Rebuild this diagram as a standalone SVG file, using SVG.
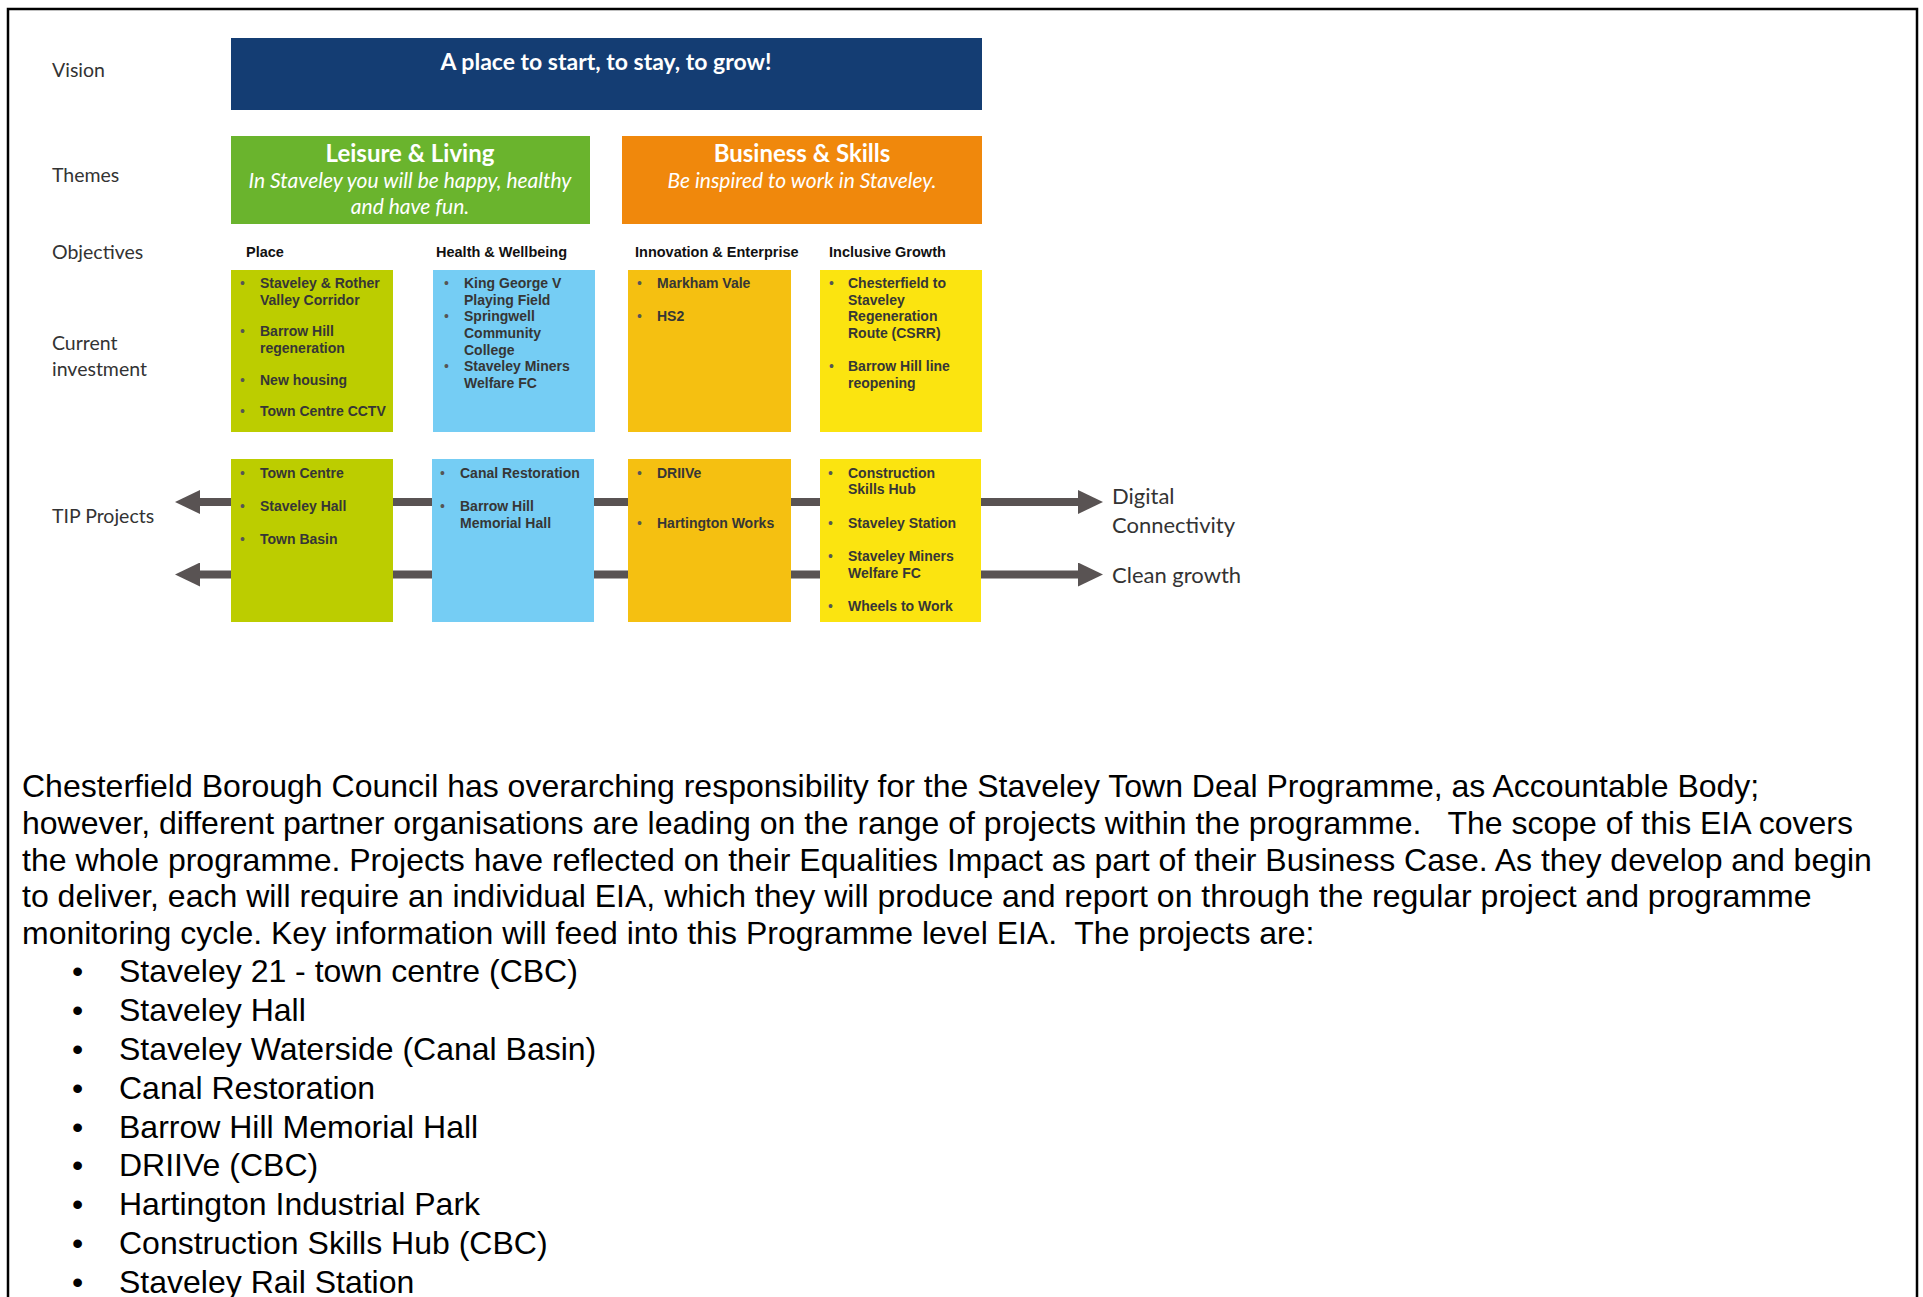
<svg xmlns="http://www.w3.org/2000/svg" width="1923" height="1297" viewBox="0 0 1923 1297">
<defs>
<marker id="ah" viewBox="0 0 25 24" markerWidth="25" markerHeight="24" markerUnits="userSpaceOnUse" refX="0" refY="12" orient="auto-start-reverse">
<path d="M0,0 L25,12 L0,24 z" fill="#595353"/>
</marker>
</defs>
<style>
.lbl{font-family:Lato,"Open Sans",sans-serif;font-size:19.5px;fill:#333}
.head{font-family:Lato,"Open Sans",sans-serif;font-weight:700;fill:#fff;text-anchor:middle}
.sub{font-family:Lato,"Open Sans",sans-serif;font-style:italic;font-size:21px;fill:#fff;text-anchor:middle}
.obj{font-family:"Liberation Sans",Arial,sans-serif;font-weight:700;font-size:14.5px;fill:#111}
.it{font-family:"Liberation Sans",Arial,sans-serif;font-weight:700;font-size:14px;fill:#363636}
.bl{font-family:"Liberation Sans",Arial,sans-serif;font-size:14px;fill:#555}
.body{font-family:"Liberation Sans",Arial,sans-serif;font-size:32px;fill:#000;white-space:pre}
.conn{stroke:#595353;stroke-width:8;fill:none}
.side{font-family:Lato,"Open Sans",sans-serif;font-size:22px;fill:#333}
</style>
<rect x="0" y="0" width="1923" height="1297" fill="#fff"/>
<rect x="8" y="9" width="1909" height="1310" fill="none" stroke="#000" stroke-width="2.5"/>

<g id="row-labels">
<text class="lbl" x="52" y="77">Vision</text>
<text class="lbl" x="52" y="182">Themes</text>
<text class="lbl" x="52" y="259">Objectives</text>
<text class="lbl" x="52" y="350">Current</text>
<text class="lbl" x="52" y="376">investment</text>
<text class="lbl" x="52" y="523">TIP Projects</text>
</g>

<g id="connectors">
<line class="conn" x1="200" y1="502" x2="1078" y2="502" marker-start="url(#ah)" marker-end="url(#ah)"/>
<line class="conn" x1="200" y1="574.5" x2="1078" y2="574.5" marker-start="url(#ah)" marker-end="url(#ah)"/>
</g>

<g id="vision">
<rect x="231" y="38" width="751" height="72" fill="#143d73"/>
<text class="head" x="606" y="70" font-size="23">A place to start, to stay, to grow!</text>
</g>

<g id="theme-leisure">
<rect x="231" y="136" width="359" height="88" fill="#6ab42d"/>
<text class="head" x="410" y="162" font-size="24">Leisure &amp; Living</text>
<text class="sub" x="410" y="188">In Staveley you will be happy, healthy</text>
<text class="sub" x="410" y="214">and have fun.</text>
</g>

<g id="theme-business">
<rect x="622" y="136" width="360" height="88" fill="#f0880c"/>
<text class="head" x="802" y="162" font-size="24">Business &amp; Skills</text>
<text class="sub" x="802" y="188">Be inspired to work in Staveley.</text>
</g>

<g id="obj-place">
<text class="obj" x="246" y="257">Place</text>
<rect x="231" y="270" width="162" height="162" fill="#bccd00"/>
<text class="bl" x="240" y="288">•</text><text class="it" x="260" y="288">Staveley &amp; Rother</text>
<text class="it" x="260" y="304.5">Valley Corridor</text>
<text class="bl" x="240" y="336">•</text><text class="it" x="260" y="336">Barrow Hill</text>
<text class="it" x="260" y="352.5">regeneration</text>
<text class="bl" x="240" y="384.5">•</text><text class="it" x="260" y="384.5">New housing</text>
<text class="bl" x="240" y="416">•</text><text class="it" x="260" y="416">Town Centre CCTV</text>
</g>

<g id="obj-health">
<text class="obj" x="436" y="257">Health &amp; Wellbeing</text>
<rect x="433" y="270" width="162" height="162" fill="#75cdf4"/>
<text class="bl" x="444" y="288">•</text><text class="it" x="464" y="288">King George V</text>
<text class="it" x="464" y="304.5">Playing Field</text>
<text class="bl" x="444" y="321">•</text><text class="it" x="464" y="321">Springwell</text>
<text class="it" x="464" y="338">Community</text>
<text class="it" x="464" y="354.5">College</text>
<text class="bl" x="444" y="371">•</text><text class="it" x="464" y="371">Staveley Miners</text>
<text class="it" x="464" y="388">Welfare FC</text>
</g>

<g id="obj-innovation">
<text class="obj" x="635" y="257">Innovation &amp; Enterprise</text>
<rect x="628" y="270" width="163" height="162" fill="#f5c011"/>
<text class="bl" x="637" y="288">•</text><text class="it" x="657" y="288">Markham Vale</text>
<text class="bl" x="637" y="321">•</text><text class="it" x="657" y="321">HS2</text>
</g>

<g id="obj-inclusive">
<text class="obj" x="829" y="257">Inclusive Growth</text>
<rect x="820" y="270" width="162" height="162" fill="#fbe410"/>
<text class="bl" x="829" y="288">•</text><text class="it" x="848" y="288">Chesterfield to</text>
<text class="it" x="848" y="304.5">Staveley</text>
<text class="it" x="848" y="321">Regeneration</text>
<text class="it" x="848" y="338">Route (CSRR)</text>
<text class="bl" x="829" y="371">•</text><text class="it" x="848" y="371">Barrow Hill line</text>
<text class="it" x="848" y="388">reopening</text>
</g>

<g id="tip-place">
<rect x="231" y="459" width="162" height="163" fill="#bccd00"/>
<text class="bl" x="240" y="477.7">•</text><text class="it" x="260" y="477.7">Town Centre</text>
<text class="bl" x="240" y="511">•</text><text class="it" x="260" y="511">Staveley Hall</text>
<text class="bl" x="240" y="544.3">•</text><text class="it" x="260" y="544.3">Town Basin</text>
</g>

<g id="tip-health">
<rect x="432" y="459" width="162" height="163" fill="#75cdf4"/>
<text class="bl" x="440" y="477.7">•</text><text class="it" x="460" y="477.7">Canal Restoration</text>
<text class="bl" x="440" y="511">•</text><text class="it" x="460" y="511">Barrow Hill</text>
<text class="it" x="460" y="527.7">Memorial Hall</text>
</g>

<g id="tip-innovation">
<rect x="628" y="459" width="163" height="163" fill="#f5c011"/>
<text class="bl" x="637" y="477.7">•</text><text class="it" x="657" y="477.7">DRIIVe</text>
<text class="bl" x="637" y="527.7">•</text><text class="it" x="657" y="527.7">Hartington Works</text>
</g>

<g id="tip-inclusive">
<rect x="820" y="459" width="161" height="163" fill="#fbe410"/>
<text class="bl" x="828" y="477.7">•</text><text class="it" x="848" y="477.7">Construction</text>
<text class="it" x="848" y="494.3">Skills Hub</text>
<text class="bl" x="828" y="527.7">•</text><text class="it" x="848" y="527.7">Staveley Station</text>
<text class="bl" x="828" y="561">•</text><text class="it" x="848" y="561">Staveley Miners</text>
<text class="it" x="848" y="577.7">Welfare FC</text>
<text class="bl" x="828" y="611">•</text><text class="it" x="848" y="611">Wheels to Work</text>
</g>

<g id="outcomes">
<text class="side" x="1112" y="504">Digital</text>
<text class="side" x="1112" y="533">Connectivity</text>
<text class="side" x="1112" y="583">Clean growth</text>
</g>

<g id="body-text">
<text class="body" x="22" y="797">Chesterfield Borough Council has overarching responsibility for the Staveley Town Deal Programme, as Accountable Body;</text>
<text class="body" x="22" y="834">however, different partner organisations are leading on the range of projects within the programme.   The scope of this EIA covers</text>
<text class="body" x="22" y="871">the whole programme. Projects have reflected on their Equalities Impact as part of their Business Case. As they develop and begin</text>
<text class="body" x="22" y="907">to deliver, each will require an individual EIA, which they will produce and report on through the regular project and programme</text>
<text class="body" x="22" y="944">monitoring cycle. Key information will feed into this Programme level EIA.  The projects are:</text>
</g>

<g id="project-list">
<text class="body" x="72" y="982">•</text><text class="body" x="119" y="982">Staveley 21 - town centre (CBC)</text>
<text class="body" x="72" y="1021">•</text><text class="body" x="119" y="1021">Staveley Hall</text>
<text class="body" x="72" y="1060">•</text><text class="body" x="119" y="1060">Staveley Waterside (Canal Basin)</text>
<text class="body" x="72" y="1099">•</text><text class="body" x="119" y="1099">Canal Restoration</text>
<text class="body" x="72" y="1138">•</text><text class="body" x="119" y="1138">Barrow Hill Memorial Hall</text>
<text class="body" x="72" y="1176">•</text><text class="body" x="119" y="1176">DRIIVe (CBC)</text>
<text class="body" x="72" y="1215">•</text><text class="body" x="119" y="1215">Hartington Industrial Park</text>
<text class="body" x="72" y="1254">•</text><text class="body" x="119" y="1254">Construction Skills Hub (CBC)</text>
<text class="body" x="72" y="1293">•</text><text class="body" x="119" y="1293">Staveley Rail Station</text>
</g>
</svg>
